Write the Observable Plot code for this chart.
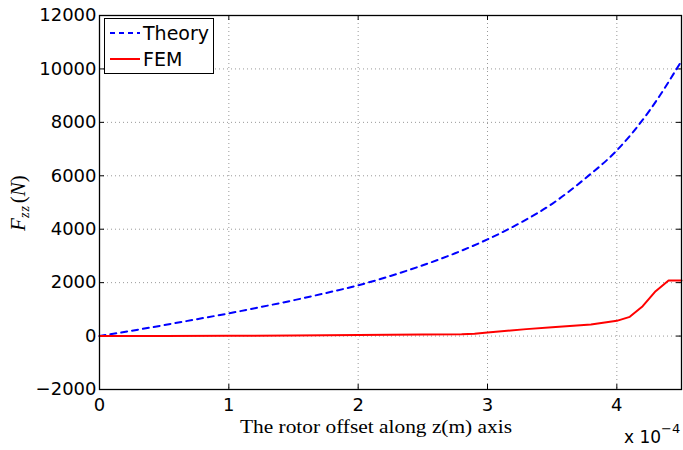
<!DOCTYPE html>
<html>
<head>
<meta charset="utf-8">
<script src="https://cdn.jsdelivr.net/npm/d3@7"></script>
<script src="https://cdn.jsdelivr.net/npm/@observablehq/plot@0.6"></script>
<style>
  html, body { margin: 0; padding: 0; background: #fff; }
  #chart { width: 683px; height: 450px; }
</style>
</head>
<body>
<div id="chart"></div>
<script>
// Data (x in metres)
const theoryX = [0, 0.25e-4, 0.5e-4, 0.75e-4, 1e-4, 1.25e-4, 1.5e-4, 1.75e-4, 2e-4, 2.25e-4, 2.5e-4, 2.75e-4, 3e-4, 3.25e-4, 3.5e-4, 3.75e-4, 4e-4, 4.25e-4, 4.5e-4];
const theoryY = [0, 200, 410, 630, 850, 1090, 1340, 1610, 1900, 2250, 2650, 3100, 3620, 4230, 4950, 5880, 6950, 8420, 10300];
const femX = [0, 0.5e-4, 1e-4, 1.5e-4, 2e-4, 2.5e-4, 2.8e-4, 2.9e-4, 3e-4, 3.3e-4, 3.5e-4, 3.8e-4, 4e-4, 4.1e-4, 4.2e-4, 4.3e-4, 4.4e-4, 4.5e-4];
const femY = [0, 5, 12, 22, 38, 60, 70, 90, 130, 260, 330, 430, 570, 720, 1120, 1680, 2080, 2080];
const xTicks = [0, 1e-4, 2e-4, 3e-4, 4e-4];
const yTicks = [-2000, 0, 2000, 4000, 6000, 8000, 10000, 12000];
const seriesNames = ["Theory", "FEM"];
const seriesColors = ["#0000ff", "#ff0000"];

const theory = theoryX.map((x, i) => ({x, y: theoryY[i]}));
const fem = femX.map((x, i) => ({x, y: femY[i]}));

const xDom = [0, 4.5e-4], yDom = [-2000, 12000];
const tickLenX = 4.5e-4 * 5 / 582; // ~5px in data units
const tickLenY = 14000 * 5 / 374;
const sans = "'DejaVu Sans', Verdana, sans-serif";

const plot = Plot.plot({
  width: 683,
  height: 450,
  marginLeft: 99,
  marginRight: 2,
  marginTop: 15,
  marginBottom: 61,
  style: {fontFamily: sans, fontSize: "18px", color: "#000", background: "#fff"},
  x: {domain: xDom, label: null},
  y: {domain: yDom, label: null},
  marks: [
    // grid
    Plot.ruleX(xTicks.slice(1), {stroke: "#999", strokeDasharray: "1,3", strokeWidth: 1}),
    Plot.ruleY(yTicks.slice(1, -1), {stroke: "#999", strokeDasharray: "1,3", strokeWidth: 1}),
    // inward ticks
    Plot.ruleY(yTicks, {x1: 0, x2: tickLenX, stroke: "#000"}),
    Plot.ruleY(yTicks, {x1: 4.5e-4 - tickLenX, x2: 4.5e-4, stroke: "#000"}),
    Plot.ruleX(xTicks, {y1: -2000, y2: -2000 + tickLenY, stroke: "#000"}),
    Plot.ruleX(xTicks, {y1: 12000 - tickLenY, y2: 12000, stroke: "#000"}),
    // axes labels
    Plot.axisX({ticks: xTicks, tickSize: 0, tickPadding: 9, tickFormat: d => String(Math.round(d * 1e4)), fontSize: 18, label: null}),
    Plot.axisY({ticks: yTicks, tickSize: 0, tickPadding: 3, tickFormat: d => d < 0 ? "\u2212" + Math.abs(d) : String(d), fontSize: 18, label: null}),
    // lines
    Plot.line(theory, {x: "x", y: "y", stroke: seriesColors[0], strokeWidth: 2, strokeDasharray: "6,5", curve: "monotone-x"}),
    Plot.line(fem, {x: "x", y: "y", stroke: seriesColors[1], strokeWidth: 2}),
    Plot.frame({stroke: "#000", strokeWidth: 1.3})
  ]
});

document.getElementById("chart").appendChild(plot);

const svg = d3.select(plot);
// Legend
const lg = svg.append("g").attr("text-anchor", "start");
lg.append("rect").attr("x", 104.5).attr("y", 18.5).attr("width", 109).attr("height", 55)
  .attr("fill", "#fff").attr("stroke", "#000").attr("stroke-width", 1);
const rows = [{name: seriesNames[0], color: seriesColors[0], dash: "5,4", y: 33}, {name: seriesNames[1], color: seriesColors[1], dash: null, y: 59}];
rows.forEach(r => {
  const l = lg.append("line").attr("x1", 110).attr("x2", 140).attr("y1", r.y).attr("y2", r.y)
    .attr("stroke", r.color).attr("stroke-width", 2);
  if (r.dash) l.attr("stroke-dasharray", r.dash);
  lg.append("text").attr("x", 143).attr("y", r.y + 7).text(r.name)
    .attr("font-family", sans).attr("font-size", 19).attr("fill", "#000");
});

// X axis title
svg.append("text").attr("x", 376).attr("y", 433).attr("text-anchor", "middle")
  .attr("font-family", "'Liberation Serif', 'DejaVu Serif', serif").attr("font-size", 19)
  .attr("textLength", 272).attr("lengthAdjust", "spacingAndGlyphs")
  .attr("fill", "#000").text("The rotor offset along z(m) axis");

// Exponent
const ex = svg.append("text").attr("x", 624).attr("y", 443).attr("text-anchor", "start")
  .attr("font-family", sans).attr("font-size", 17).attr("fill", "#000");
ex.append("tspan").text("x 10");
ex.append("tspan").attr("dy", -10).attr("font-size", 13).text("\u22124");

// Y axis title
const yt = svg.append("text").attr("transform", "translate(25,203) rotate(-90)").attr("text-anchor", "middle")
  .attr("font-family", "'Liberation Serif', 'DejaVu Serif', serif").attr("font-size", 21).attr("fill", "#000")
  .attr("font-style", "italic");
yt.append("tspan").text("F");
yt.append("tspan").attr("dy", 4).attr("font-size", 14).attr("letter-spacing", 1).text("zz");
yt.append("tspan").attr("dy", -4).attr("dx", 2).attr("font-style", "normal").text("(");
yt.append("tspan").text("N");
yt.append("tspan").attr("font-style", "normal").text(")");
</script>
</body>
</html>
